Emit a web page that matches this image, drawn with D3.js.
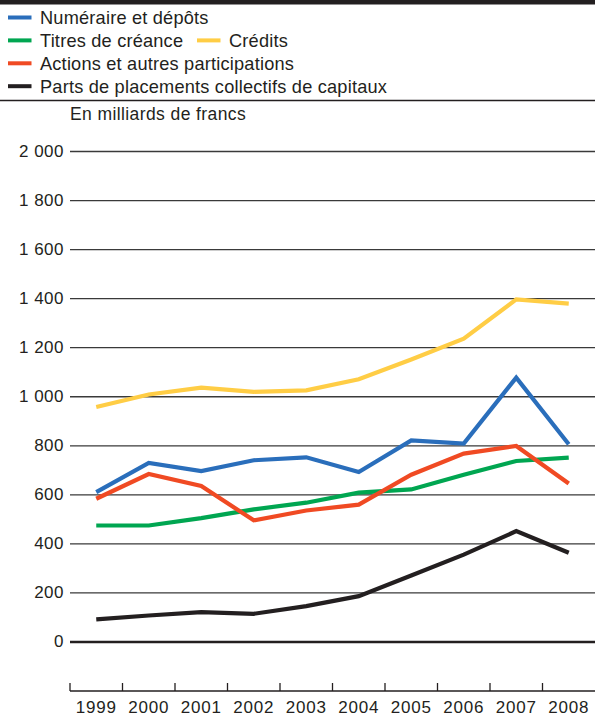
<!DOCTYPE html>
<html>
<head>
<meta charset="utf-8">
<script src="https://cdn.jsdelivr.net/npm/d3@7"></script>
<style>
  body { margin: 0; background: #fff; }
  svg text { font-family: "Liberation Sans", Arial, sans-serif; fill: #231f20; }
</style>
</head>
<body>
<svg id="chart"></svg>
<script>
// data (milliards de francs)
var years = ["1999", "2000", "2001", "2002", "2003", "2004", "2005", "2006", "2007", "2008"];
var numeraire = [609, 728, 695, 739, 751, 691, 820, 807, 1076, 804];
var titres = [473, 473, 503, 539, 566, 607, 620, 680, 736, 750];
var credits = [956, 1007, 1035, 1018, 1024, 1069, 1150, 1235, 1395, 1378];
var actions = [582, 683, 634, 494, 534, 558, 680, 766, 797, 644];
var parts = [90, 106, 120, 113, 144, 185, 269, 354, 450, 362];
var yTicks = [0, 200, 400, 600, 800, 1000, 1200, 1400, 1600, 1800, 2000];

var series = [
    { name: "Parts de placements collectifs de capitaux", values: parts, color: "#231f20" },
    { name: "Titres de créance", values: titres, color: "#00a651" },
    { name: "Actions et autres participations", values: actions, color: "#f04a23" },
    { name: "Numéraire et dépôts", values: numeraire, color: "#2a6ebb" },
    { name: "Crédits", values: credits, color: "#ffcd45" }
];

var width = 595, height = 716;
var svg = d3.select("#chart").attr("width", width).attr("height", height);

var x = d3.scaleBand().domain(years).range([70, 595]);
var y = d3.scaleLinear().domain([0, 2000]).range([641.5, 151]);

// top rule and separator
svg.append("rect").attr("x", 0).attr("y", 0).attr("width", width).attr("height", 4.5).style("fill", "#231f20");
svg.append("line").attr("x1", 0).attr("x2", width).attr("y1", 100.5).attr("y2", 100.5)
    .style("stroke", "#231f20").style("stroke-width", 1.3);

// legend
var legendItems = [
    { name: "Numéraire et dépôts", color: "#2a6ebb", x: 8, row: 0 },
    { name: "Titres de créance", color: "#00a651", x: 8, row: 1 },
    { name: "Crédits", color: "#ffcd45", x: 197, row: 1 },
    { name: "Actions et autres participations", color: "#f04a23", x: 8, row: 2 },
    { name: "Parts de placements collectifs de capitaux", color: "#231f20", x: 8, row: 3 }
];
var lg = svg.append("g").selectAll("g").data(legendItems).enter().append("g")
    .attr("transform", function(d) { return "translate(" + d.x + "," + (17.5 + d.row * 22.9) + ")"; });
lg.append("rect").attr("x", 0).attr("y", -2).attr("width", 23.5).attr("height", 4)
    .style("fill", function(d) { return d.color; });
lg.append("text").attr("x", 32).attr("y", 0).attr("dy", "0.36em")
    .style("font-size", "18.2px").style("letter-spacing", "0.2px")
    .text(function(d) { return d.name; });

svg.append("text").attr("x", 70).attr("y", 114).attr("dy", "0.36em")
    .style("font-size", "17.5px").style("letter-spacing", "0.4px")
    .text("En milliards de francs");

// y axis with gridlines
var yAxis = d3.axisLeft(y).tickValues(yTicks)
    .tickSize(-(595 - 70))
    .tickFormat(function(d) { return d3.format(",")(d).replace(",", " "); });
var gy = svg.append("g").attr("transform", "translate(70,0)").call(yAxis);
gy.select(".domain").remove();
gy.selectAll(".tick line").style("stroke", "#3a3a3a").style("stroke-width", 1.3);
gy.selectAll(".tick").filter(function(d) { return d === 0; }).select("line")
    .style("stroke", "#231f20").style("stroke-width", 2.6);
gy.selectAll(".tick text").attr("x", -6)
    .style("font-size", "17px").style("letter-spacing", "0.5px").style("fill", "#231f20");

// x axis at bottom
var xAxis = d3.axisBottom(x).tickSize(0);
var gx = svg.append("g").attr("transform", "translate(0,691)").call(xAxis);
gx.select(".domain").style("stroke", "#231f20").style("stroke-width", 1.3)
    .attr("d", "M70,0H595");
gx.selectAll(".tick text").attr("y", 22).attr("dy", 0)
    .style("font-size", "17px").style("letter-spacing", "0.8px").style("fill", "#231f20");
gx.append("g").selectAll("line").data(years).enter().append("line")
    .attr("x1", function(d) { return x(d); }).attr("x2", function(d) { return x(d); })
    .attr("y1", -8).attr("y2", 0)
    .style("stroke", "#231f20").style("stroke-width", 1.3);

// lines
var line = d3.line()
    .x(function(d, i) { return x(years[i]) + x.bandwidth() / 2; })
    .y(function(d) { return y(d); });

svg.append("g").selectAll("path").data(series).enter().append("path")
    .attr("d", function(d) { return line(d.values); })
    .style("fill", "none")
    .style("stroke", function(d) { return d.color; })
    .style("stroke-width", 4.2)
    .style("stroke-linejoin", "miter");
</script>
</body>
</html>
